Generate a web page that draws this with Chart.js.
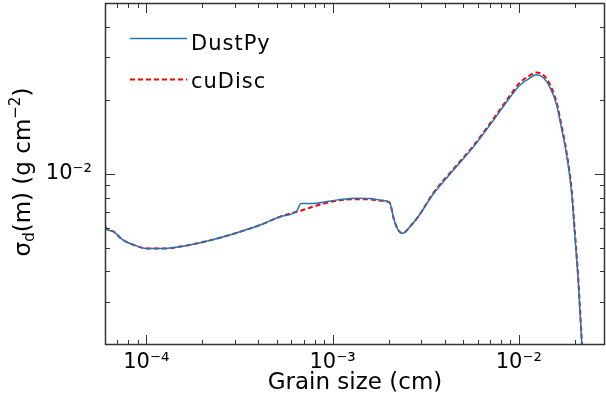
<!DOCTYPE html>
<html>
<head>
<meta charset="utf-8">
<script src="https://cdn.jsdelivr.net/npm/chart.js@4.4.1/dist/chart.umd.min.js"></script>
<style>
html, body { margin: 0; padding: 0; background: #fff; }
</style>
</head>
<body>
<canvas id="mychart" width="606" height="416"></canvas>
<script>
// grain size (cm) and surface density per size bin
var grainSize = [6.0e-5, 6.16e-5, 6.68e-5, 7.41e-5, 8.38e-5, 1.01e-4, 1.24e-4, 1.52e-4, 1.95e-4, 2.49e-4,
	3.19e-4, 4.09e-4, 5.23e-4, 6.43e-4, 6.75e-4, 7.89e-4, 1.05e-3, 1.35e-3, 1.59e-3, 1.80e-3,
	2.02e-3, 2.14e-3, 2.25e-3, 2.38e-3, 2.60e-3, 2.88e-3, 3.47e-3, 4.44e-3, 5.69e-3, 7.28e-3,
	8.95e-3, 1.01e-2, 1.15e-2, 1.24e-2, 1.35e-2, 1.47e-2, 1.59e-2, 1.69e-2, 1.80e-2, 1.92e-2,
	2.00e-2, 2.08e-2, 2.14e-2, 2.18e-2, 2.22e-2];
var dustpy = [6.13e-3, 5.94e-3, 5.81e-3, 5.41e-3, 5.16e-3, 4.96e-3, 4.96e-3, 5.05e-3, 5.24e-3, 5.49e-3,
	5.81e-3, 6.19e-3, 6.69e-3, 7.07e-3, 7.58e-3, 7.58e-3, 7.82e-3, 7.96e-3, 7.94e-3, 7.82e-3,
	7.65e-3, 6.48e-3, 5.90e-3, 5.72e-3, 6.09e-3, 6.69e-3, 8.28e-3, 1.035e-2, 1.288e-2, 1.653e-2,
	2.056e-2, 2.30e-2, 2.47e-2, 2.543e-2, 2.479e-2, 2.258e-2, 1.932e-2, 1.553e-2, 1.210e-2, 8.33e-3,
	5.54e-3, 3.70e-3, 2.543e-3, 1.98e-3, 1.6e-3];
var cudisc = [6.13e-3, 5.94e-3, 5.81e-3, 5.41e-3, 5.16e-3, 4.96e-3, 4.96e-3, 5.05e-3, 5.24e-3, 5.49e-3,
	5.81e-3, 6.19e-3, 6.69e-3, 7.01e-3, 7.08e-3, 7.36e-3, 7.78e-3, 7.89e-3, 7.87e-3, 7.78e-3,
	7.65e-3, 6.48e-3, 5.90e-3, 5.72e-3, 6.09e-3, 6.69e-3, 8.35e-3, 1.045e-2, 1.302e-2, 1.675e-2,
	2.09e-2, 2.36e-2, 2.53e-2, 2.602e-2, 2.543e-2, 2.316e-2, 1.975e-2, 1.593e-2, 1.235e-2, 8.62e-3,
	5.74e-3, 3.84e-3, 2.64e-3, 2.05e-3, 1.65e-3];

var xTicks = [7e-5, 8e-5, 9e-5, 1e-4, 2e-4, 3e-4, 4e-4, 5e-4, 6e-4, 7e-4, 8e-4, 9e-4,
	1e-3, 2e-3, 3e-3, 4e-3, 5e-3, 6e-3, 7e-3, 8e-3, 9e-3, 1e-2, 2e-2];
var yTicks = [3e-3, 4e-3, 5e-3, 6e-3, 7e-3, 8e-3, 9e-3, 1e-2, 2e-2, 3e-2, 4e-2];
var tickLabels = { '-4': '10\u207B\u2074', '-3': '10\u207B\u00B3', '-2': '10\u207B\u00B2' };

function isMajor(v) {
	var l = Math.log10(v);
	return Math.abs(l - Math.round(l)) < 1e-6;
}
function labelFor(v) {
	if (!isMajor(v)) return '';
	return tickLabels[String(Math.round(Math.log10(v)))] || '';
}

function drawPieces(ctx, pieces, x, y) {
	// pieces: text runs with their own size and baseline shift
	var i, w = 0;
	for (i = 0; i < pieces.length; i++) {
		ctx.font = pieces[i].size + 'px "DejaVu Sans"';
		w += ctx.measureText(pieces[i].t).width;
	}
	var cx = x - w / 2;
	for (i = 0; i < pieces.length; i++) {
		ctx.font = pieces[i].size + 'px "DejaVu Sans"';
		ctx.fillText(pieces[i].t, cx, y + pieces[i].dy);
		cx += ctx.measureText(pieces[i].t).width;
	}
}

var frame = {
	id: 'frame',
	afterDraw: function (chart) {
		var ctx = chart.ctx;
		var a = chart.chartArea;
		var xs = chart.scales.x, ys = chart.scales.y;
		var i, p, len;
		ctx.save();
		ctx.strokeStyle = '#333';
		ctx.lineWidth = 1;
		for (i = 0; i < xTicks.length; i++) {
			p = Math.round(xs.getPixelForValue(xTicks[i])) + 0.5;
			len = isMajor(xTicks[i]) ? 10 : 5;
			ctx.beginPath();
			ctx.moveTo(p, a.bottom); ctx.lineTo(p, a.bottom - len);
			ctx.moveTo(p, a.top); ctx.lineTo(p, a.top + len);
			ctx.stroke();
		}
		for (i = 0; i < yTicks.length; i++) {
			p = Math.round(ys.getPixelForValue(yTicks[i])) + 0.5;
			len = isMajor(yTicks[i]) ? 10 : 5;
			ctx.beginPath();
			ctx.moveTo(a.left, p); ctx.lineTo(a.left + len, p);
			ctx.moveTo(a.right, p); ctx.lineTo(a.right - len, p);
			ctx.stroke();
		}
		ctx.lineWidth = 1.5;
		ctx.strokeRect(a.left + 0.5, a.top + 0.5, a.right - a.left - 1, a.bottom - a.top - 1);

		// legend
		ctx.lineWidth = 1.5;
		ctx.strokeStyle = '#1f77b4';
		ctx.beginPath(); ctx.moveTo(130, 38.5); ctx.lineTo(187, 38.5); ctx.stroke();
		ctx.lineWidth = 2;
		ctx.strokeStyle = '#ff0000';
		ctx.setLineDash([5, 3]);
		ctx.beginPath(); ctx.moveTo(130, 79.5); ctx.lineTo(187, 79.5); ctx.stroke();
		ctx.setLineDash([]);
		ctx.fillStyle = '#000';
		ctx.textAlign = 'left';
		ctx.textBaseline = 'alphabetic';
		ctx.font = '21px "DejaVu Sans"';
		ctx.letterSpacing = '1px';
		ctx.fillText('DustPy', 191, 50);
		ctx.fillText('cuDisc', 191, 88);
		ctx.letterSpacing = '0px';

		// axis titles
		drawPieces(ctx, [{ t: 'Grain size (cm)', size: 23, dy: 0 }], (a.left + a.right) / 2, 389);
		ctx.translate(30, 172);
		ctx.rotate(-Math.PI / 2);
		drawPieces(ctx, [
			{ t: '\u03C3', size: 23, dy: 0 },
			{ t: 'd', size: 15, dy: 4 },
			{ t: '(m) (g cm', size: 23, dy: 0 },
			{ t: '\u22122', size: 15, dy: -10 },
			{ t: ')', size: 23, dy: 0 }
		], 0, 0);
		ctx.restore();
	}
};

var ctx = document.getElementById('mychart').getContext('2d');
var myChart = new Chart(ctx, {
	type: 'line',
	data: {
		datasets: [{
			label: 'DustPy',
			data: grainSize.map(function (x, i) { return { x: x, y: dustpy[i] }; }),
			borderColor: '#1f77b4',
			borderWidth: 1.5,
			pointRadius: 0,
			cubicInterpolationMode: 'monotone',
			fill: false
		}, {
			label: 'cuDisc',
			data: grainSize.map(function (x, i) { return { x: x, y: cudisc[i] }; }),
			borderColor: '#ff0000',
			borderWidth: 2,
			borderDash: [5, 3],
			pointRadius: 0,
			cubicInterpolationMode: 'monotone',
			fill: false
		}]
	},
	options: {
		responsive: false,
		animation: false,
		layout: { padding: { top: 3, right: 1, left: 0, bottom: 0 } },
		plugins: { legend: { display: false }, tooltip: { enabled: false } },
		scales: {
			x: {
				type: 'logarithmic',
				min: 6e-5,
				max: 2.9e-2,
				grid: { display: false, drawTicks: false },
				border: { display: false },
				afterBuildTicks: function (s) { s.ticks = xTicks.map(function (v) { return { value: v }; }); },
				afterFit: function (s) { s.height = 71; s.paddingLeft = 0; s.paddingRight = 0; },
				ticks: {
					autoSkip: false, maxRotation: 0, minRotation: 0, padding: 5,
					color: '#000', font: { family: 'DejaVu Sans', size: 21 },
					callback: function (v) { return labelFor(v); }
				}
			},
			y: {
				type: 'logarithmic',
				min: 2e-3,
				max: 5e-2,
				grid: { display: false, drawTicks: false },
				border: { display: false },
				afterBuildTicks: function (s) { s.ticks = yTicks.map(function (v) { return { value: v }; }); },
				afterFit: function (s) { s.width = 105; s.paddingTop = 0; s.paddingBottom = 0; },
				ticks: {
					autoSkip: false, padding: 13,
					color: '#000', font: { family: 'DejaVu Sans', size: 21 },
					callback: function (v) { return labelFor(v); }
				}
			}
		}
	},
	plugins: [frame]
});
</script>
</body>
</html>
